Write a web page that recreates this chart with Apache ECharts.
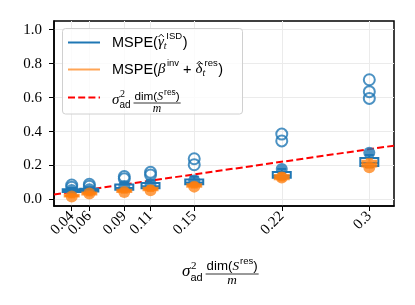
<!DOCTYPE html>
<html><head><meta charset="utf-8">
<script src="https://cdn.jsdelivr.net/npm/echarts@6/dist/echarts.min.js"></script>
<style>html,body{margin:0;padding:0;background:#fff}#c{width:415px;height:305px}</style>
</head><body><div id="c"></div>
<script>
// ---- data ----
const xValues = [0.0444, 0.0593, 0.0889, 0.1111, 0.1481, 0.2222, 0.2963];
const xTickLabels = ['0.04', '0.06', '0.09', '0.11', '0.15', '0.22', '0.3'];
const yTicks = [0, 0.2, 0.4, 0.6, 0.8, 1.0];

const blueQ1   = [0.045, 0.048, 0.058, 0.066, 0.090, 0.128, 0.198];
const blueMed  = [0.052, 0.056, 0.068, 0.078, 0.100, 0.140, 0.215];
const blueQ3   = [0.060, 0.064, 0.088, 0.098, 0.118, 0.162, 0.245];
const blueLo   = [0.040, 0.042, 0.052, 0.060, 0.082, 0.120, 0.190];
const blueHi   = [0.068, 0.072, 0.100, 0.112, 0.135, 0.180, 0.262];
const blueMean = [0.056, 0.060, 0.080, 0.092, 0.112, 0.180, 0.275];
const blueFliers = [
  [0.085, 0.072], [0.090, 0.078], [0.135, 0.122], [0.160, 0.145],
  [0.240, 0.205], [0.385, 0.345], [0.705, 0.635, 0.595]
];

const orangeQ1   = [0.018, 0.030, 0.045, 0.055, 0.075, 0.120, 0.195];
const orangeMed  = [0.022, 0.036, 0.050, 0.062, 0.082, 0.130, 0.210];
const orangeQ3   = [0.028, 0.042, 0.058, 0.070, 0.090, 0.145, 0.228];
const orangeLo   = [0.012, 0.024, 0.040, 0.050, 0.070, 0.112, 0.188];
const orangeHi   = [0.034, 0.048, 0.064, 0.078, 0.098, 0.155, 0.238];
const orangeMean = [0.018, 0.035, 0.045, 0.055, 0.076, 0.130, 0.190];

const xMin = 0.0294, xMax = 0.3172;
const yMin = -0.038, yMax = 1.0506;
const refLineX = [xMin, xMax];
const refLineY = [xMin, xMax];

// ---- styles ----
const BLUE = '#1f77b4', ORANGE = '#ff7f0e', RED = '#ff0000';
const SERIF = 'Liberation Serif';
const SANS = 'Liberation Sans';

const chart = echarts.init(document.getElementById('c'), null, {renderer: 'canvas'});

function boxSeries(color, q1, med, q3, lo, hi, halfW, fill, z) {
  return {
    type: 'custom', z: z, silent: true,
    data: xValues.map((x, i) => [x, q1[i], med[i], q3[i], lo[i], hi[i]]),
    encode: {x: 0, y: [1, 2, 3, 4, 5]},
    renderItem(params, api) {
      const x = api.value(0);
      const pQ1 = api.coord([x, api.value(1)]);
      const pMed = api.coord([x, api.value(2)]);
      const pQ3 = api.coord([x, api.value(3)]);
      const pLo = api.coord([x, api.value(4)]);
      const pHi = api.coord([x, api.value(5)]);
      const cx = pQ1[0];
      const st = {stroke: color, lineWidth: 2, fill: null};
      const cw = halfW * 0.5;
      return {type: 'group', children: [
        {type: 'line', shape: {x1: cx, y1: pLo[1], x2: cx, y2: pQ1[1]}, style: st},
        {type: 'line', shape: {x1: cx, y1: pQ3[1], x2: cx, y2: pHi[1]}, style: st},
        {type: 'line', shape: {x1: cx - cw, y1: pLo[1], x2: cx + cw, y2: pLo[1]}, style: st},
        {type: 'line', shape: {x1: cx - cw, y1: pHi[1], x2: cx + cw, y2: pHi[1]}, style: st},
        {type: 'rect', shape: {x: cx - halfW, y: pQ3[1], width: 2 * halfW, height: pQ1[1] - pQ3[1]},
          style: {stroke: color, lineWidth: 2, fill: fill}},
        {type: 'line', shape: {x1: cx - halfW, y1: pMed[1], x2: cx + halfW, y2: pMed[1]}, style: st}
      ]};
    }
  };
}

const flierData = [];
blueFliers.forEach((arr, i) => arr.forEach(v => flierData.push([xValues[i], v])));

// ---- math text helpers ----
const mctx = document.createElement('canvas').getContext('2d');
function tw(t, font) { mctx.font = font; return mctx.measureText(t).width; }
function fontOf(p) { return (p.it ? 'italic ' : '') + p.s + 'px "' + p.f + '"'; }
function mathRun(pieces, x0, yc, els) {
  let x = x0;
  for (const p of pieces) {
    const font = fontOf(p);
    const y = yc + (p.dy || 0);
    const xx = x + (p.dx || 0);
    els.push({type: 'text', x: xx, y: y, silent: true,
      style: {text: p.t, font: font, fill: '#000', verticalAlign: 'middle', align: 'left'}});
    const w = tw(p.t, font);
    if (p.hat) {
      const cx = xx + w / 2 + 0.3, top = y - p.s * 0.5;
      els.push({type: 'polyline', silent: true,
        shape: {points: [[cx - 2.6, top + 2], [cx, top - 0.8], [cx + 2.6, top + 2]]},
        style: {stroke: '#000', lineWidth: 0.9, fill: null}});
    }
    if (p.adv !== false) x += w + (p.dx || 0);
  }
  return x;
}
function runWidth(pieces) {
  let w = 0;
  for (const p of pieces) if (p.adv !== false) w += tw(p.t, fontOf(p)) + (p.dx || 0);
  return w;
}
function sigmaFrac(x0, yc, big, numY, barY, denY, els) {
  const s = big, ss = Math.round(big * 0.66), ns = big * 0.78;
  let x = mathRun([
    {t: 'σ', f: SERIF, s: s, it: true},
    {t: '2', f: SERIF, s: ss, dy: -s * 0.36, dx: 0.5, adv: false},
    {t: 'ad', f: SANS, s: ss, dy: s * 0.36}
  ], x0, yc, els);
  x += 3;
  const num = [
    {t: 'dim(', f: SANS, s: ns},
    {t: 'S', f: SERIF, s: ns, it: true},
    {t: 'res', f: SANS, s: ns * 0.72, dy: -ns * 0.35, dx: 1},
    {t: ')', f: SANS, s: ns}
  ];
  const w = runWidth(num);
  mathRun(num, x + 1, numY, els);
  els.push({type: 'line', silent: true, shape: {x1: x, y1: barY, x2: x + w + 2, y2: barY},
    style: {stroke: '#000', lineWidth: 0.8}});
  const mw = tw('m', 'italic ' + ns + 'px "' + SERIF + '"');
  mathRun([{t: 'm', f: SERIF, s: ns, it: true}], x + 1 + w / 2 - mw / 2, denY, els);
}

const g = [];
// legend frame
g.push({type: 'rect', silent: true, shape: {x: 62.5, y: 28.5, width: 180, height: 85.5, r: 3},
  style: {fill: 'rgba(255,255,255,0.8)', stroke: '#d0d0d0', lineWidth: 1}, z: 50});
g.push({type: 'line', silent: true, shape: {x1: 68, y1: 42.5, x2: 100, y2: 42.5}, style: {stroke: BLUE, lineWidth: 2}, z: 51});
g.push({type: 'line', silent: true, shape: {x1: 68, y1: 69.5, x2: 100, y2: 69.5}, style: {stroke: ORANGE, opacity: 0.7, lineWidth: 2}, z: 51});
g.push({type: 'line', silent: true, shape: {x1: 68, y1: 97.5, x2: 100, y2: 97.5}, style: {stroke: RED, lineWidth: 2, lineDash: [7, 3.2]}, z: 51});
const legEls = [];
mathRun([
  {t: 'MSPE(', f: SANS, s: 14.5},
  {t: 'γ', f: SERIF, s: 15, it: true, hat: true},
  {t: 't', f: SERIF, s: 10, it: true, dy: 4, adv: false},
  {t: 'ISD', f: SANS, s: 9.5, dy: -6, dx: 2.5},
  {t: ')', f: SANS, s: 14.5, dx: 0.5}
], 112, 42.5, legEls);
mathRun([
  {t: 'MSPE(', f: SANS, s: 14.5},
  {t: 'β', f: SERIF, s: 15, it: true},
  {t: 'inv', f: SANS, s: 9.5, dy: -6, dx: 1.5},
  {t: ' + ', f: SANS, s: 14.5},
  {t: 'δ', f: SERIF, s: 15, it: true, hat: true},
  {t: 't', f: SERIF, s: 10, it: true, dy: 4, adv: false},
  {t: 'res', f: SANS, s: 9.5, dy: -6, dx: 2},
  {t: ')', f: SANS, s: 14.5, dx: 0.5}
], 112, 69.5, legEls);
sigmaFrac(112, 100, 15, 96.5, 103, 109, legEls);
legEls.forEach(e => { e.z = 52; g.push(e); });

// x-axis title
const titleEls = [];
sigmaFrac(182, 272, 17, 266.5, 274, 281, titleEls);
titleEls.forEach(e => g.push(e));

const mainLabelVals = xValues.filter((v, i) => i !== 1);
const extraLabelVals = [xValues[1]];
const fmtX = v => { const i = xValues.findIndex(a => Math.abs(a - v) < 1e-6); return i >= 0 ? xTickLabels[i] : ''; };
const xLabelStyle = {rotate: 45, margin: 8, fontFamily: SERIF, fontSize: 15, color: '#000',
  hideOverlap: false, showMinLabel: true, showMaxLabel: true, formatter: fmtX};

chart.setOption({
  animation: false,
  backgroundColor: '#fff',
  grid: {left: 54, top: 21, width: 340, height: 185, show: true, borderColor: '#000', borderWidth: 1.5, backgroundColor: 'transparent'},
  xAxis: [{
    type: 'value', min: xMin, max: xMax,
    axisLine: {show: true, onZero: false, lineStyle: {color: '#000', width: 1.5}},
    axisTick: {show: true, length: 5, lineStyle: {color: '#000', width: 1}, customValues: xValues},
    axisLabel: Object.assign({customValues: mainLabelVals}, xLabelStyle),
    splitLine: {show: true, lineStyle: {color: '#ebebeb', width: 1}}
  }, {
    type: 'value', min: xMin, max: xMax, position: 'bottom',
    axisLine: {show: false}, axisTick: {show: false}, splitLine: {show: false},
    axisLabel: Object.assign({customValues: extraLabelVals}, xLabelStyle)
  }],
  yAxis: {
    type: 'value', min: yMin, max: yMax,
    axisLine: {show: true, onZero: false, lineStyle: {color: '#000', width: 1.5}},
    axisTick: {show: true, length: 5, lineStyle: {color: '#000', width: 1}, customValues: yTicks},
    axisLabel: {customValues: yTicks, margin: 12, fontFamily: SERIF, fontSize: 15, color: '#000',
      showMinLabel: true, showMaxLabel: true,
      formatter: v => v.toFixed(1)},
    splitLine: {show: true, lineStyle: {color: '#ebebeb', width: 1}}
  },
  series: [
    {type: 'line', z: 2, silent: true, data: refLineX.map((x, i) => [x, refLineY[i]]), symbol: 'none',
      lineStyle: {color: RED, width: 2, type: [7, 3.2]}},
    boxSeries(BLUE, blueQ1, blueMed, blueQ3, blueLo, blueHi, 9, '#fff', 3),
    {type: 'scatter', z: 4, silent: true, data: flierData, symbol: 'circle', symbolSize: 11,
      itemStyle: {color: 'transparent', borderColor: BLUE, borderWidth: 2}},
    {type: 'scatter', z: 4, silent: true, data: xValues.map((x, i) => [x, blueMean[i]]), symbol: 'circle', symbolSize: 12,
      itemStyle: {color: BLUE}},
    boxSeries('rgba(255,127,14,0.75)', orangeQ1, orangeMed, orangeQ3, orangeLo, orangeHi, 7, 'rgba(255,127,14,0.5)', 5),
    {type: 'scatter', z: 6, silent: true, data: xValues.map((x, i) => [x, orangeMean[i]]), symbol: 'circle', symbolSize: 12,
      itemStyle: {color: ORANGE, opacity: 0.75}}
  ],
  graphic: {elements: g}
});
</script></body></html>
